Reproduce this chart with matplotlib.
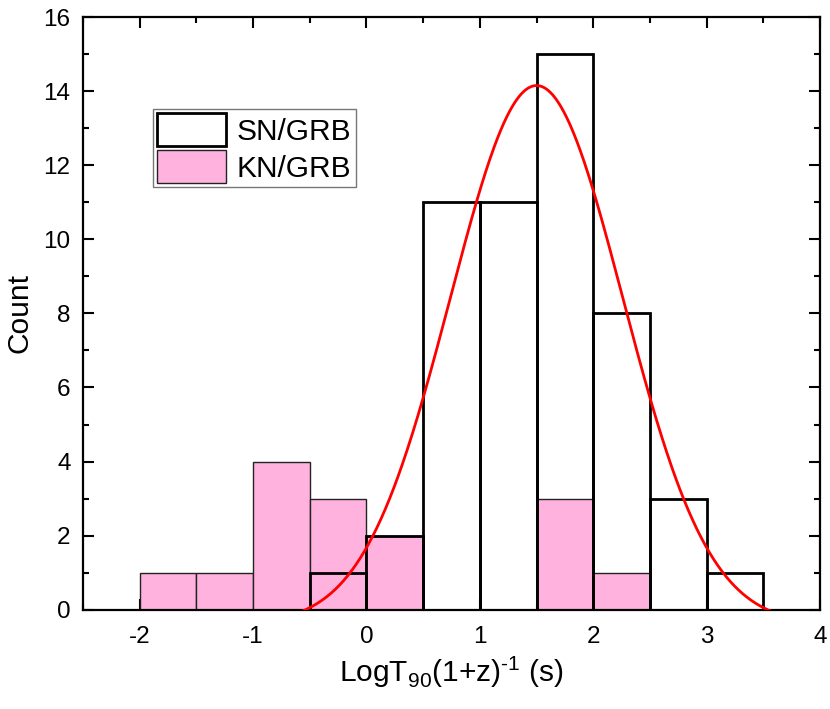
import numpy as np
import matplotlib.pyplot as plt
from matplotlib.ticker import MultipleLocator

plt.rcParams['font.family'] = ['Liberation Sans', 'DejaVu Sans']
plt.rcParams['mathtext.fontset'] = 'custom'
plt.rcParams['mathtext.rm'] = 'Liberation Sans'
plt.rcParams['axes.unicode_minus'] = False

# bordes de los bins (ancho 0.5)
bordes = [-2.0, -1.5, -1.0, -0.5, 0.0, 0.5, 1.0, 1.5, 2.0, 2.5, 3.0]
cuentas_sn = [0, 0, 0, 1, 2, 11, 11, 15, 8, 3, 1]
cuentas_kn = [1, 1, 4, 3, 2, 0, 0, 3, 1, 0, 0]

# ajuste gaussiano de SN/GRB
xc = 1.5
w = 0.76
A = 14.55
y0 = -0.4

ancho = 0.5
fig = plt.figure(figsize=(8.30, 7.09), dpi=100)
ax = fig.add_axes([0.100, 0.140, 0.888, 0.836])

kn = [c if c > 0 else np.nan for c in cuentas_kn]
sn = [c if c > 0 else np.nan for c in cuentas_sn]

ax.bar(bordes, kn, width=ancho, align='edge', color='#FFB2DD',
       edgecolor='#222222', linewidth=1.0, zorder=2, label='KN/GRB')
ax.bar(bordes, sn, width=ancho, align='edge', facecolor='none',
       edgecolor='black', linewidth=2.0, zorder=3, label='SN/GRB')

xs = np.linspace(-0.8, 3.8, 500)
ys = y0 + A * np.exp(-(xs - xc) ** 2 / (2 * w ** 2))
ax.plot(xs, ys, color='red', linewidth=2.0, zorder=4)

ax.set_xlim(-2.5, 4)
ax.set_ylim(0, 16)
ax.xaxis.set_major_locator(MultipleLocator(1))
ax.xaxis.set_minor_locator(MultipleLocator(0.5))
ax.yaxis.set_major_locator(MultipleLocator(2))
ax.yaxis.set_minor_locator(MultipleLocator(1))
ax.tick_params(which='both', direction='in', top=True, right=True,
               labelsize=17.5, width=1.5)
ax.tick_params(which='major', length=8, pad=9)
ax.tick_params(axis='x', which='major', pad=12)
ax.tick_params(which='minor', length=4)
for s in ax.spines.values():
    s.set_linewidth(1.6)

ax.set_xlabel(r'LogT$_{90}$(1+z)$^{\text{-1}}$ (s)', fontsize=21.5, labelpad=4)
ax.set_ylabel('Count', fontsize=21.5, labelpad=7)

h, l = ax.get_legend_handles_labels()
leg = ax.legend(h[::-1], l[::-1], loc='upper left', bbox_to_anchor=(0.095, 0.845),
                fontsize=21.5, frameon=True, fancybox=False, handlelength=2.3,
                handleheight=1.3, labelspacing=0.15, borderpad=0.15,
                handletextpad=0.35, borderaxespad=0)
leg.get_frame().set_edgecolor('#555555')
leg.get_frame().set_linewidth(1.0)

fig.savefig('out.png', dpi=100)
